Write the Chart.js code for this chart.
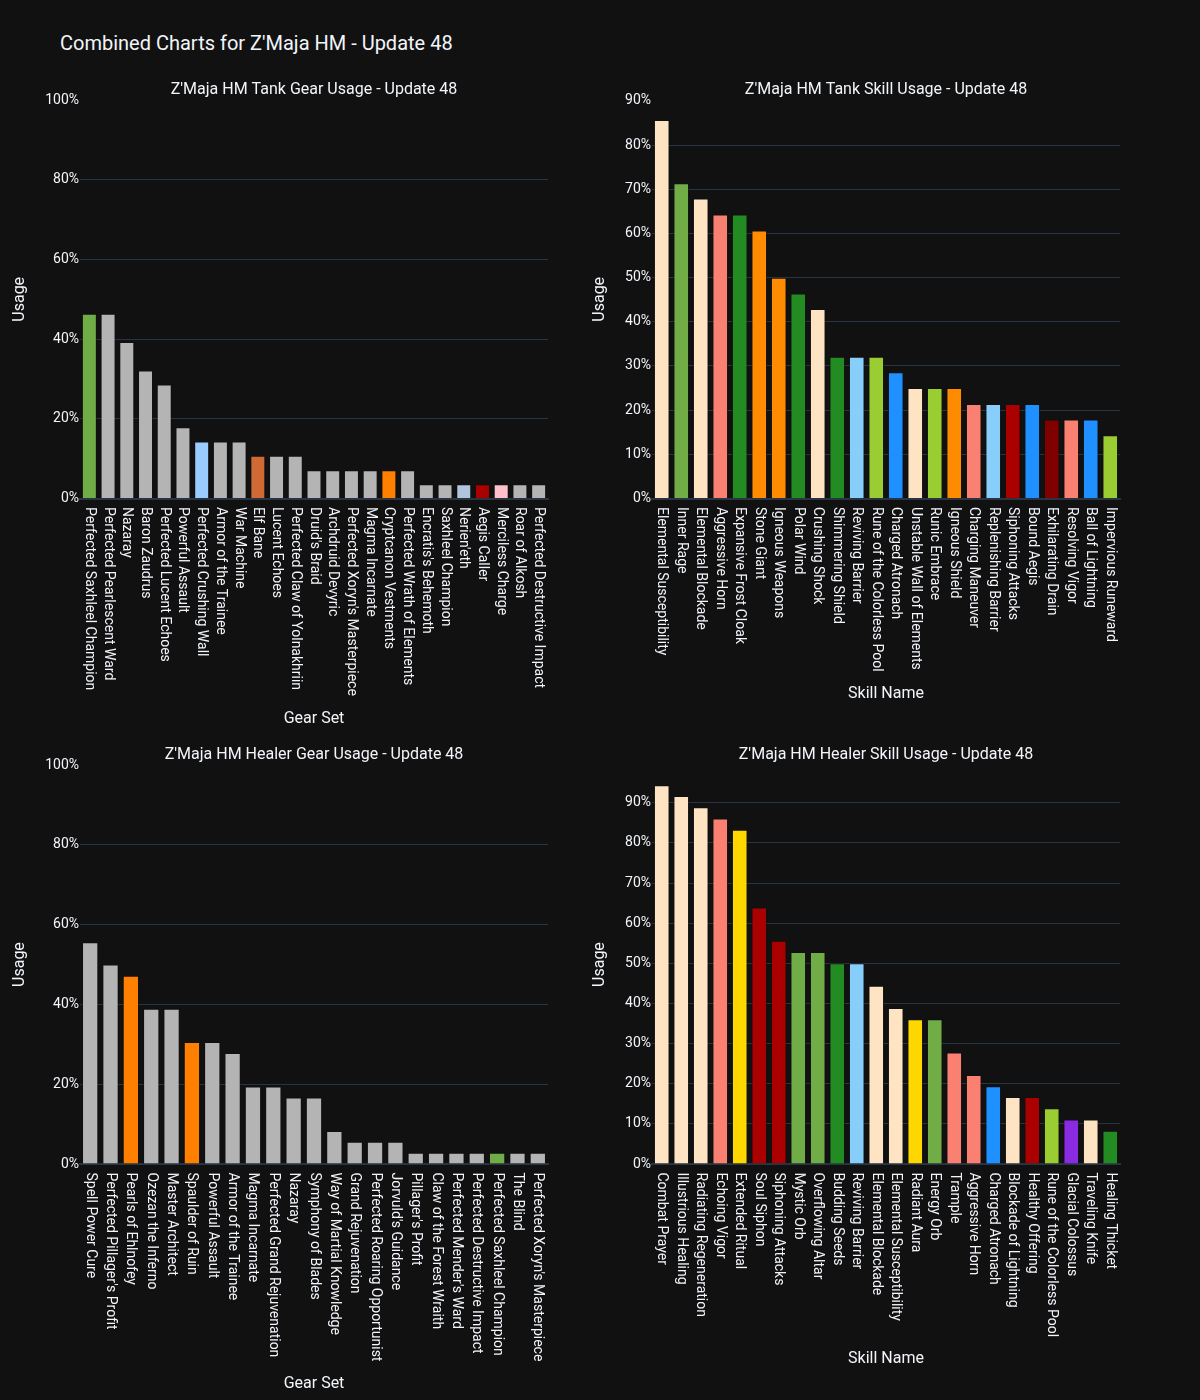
<!DOCTYPE html>
<html>
<head>
<meta charset="utf-8">
<title>Combined Charts for Z'Maja HM - Update 48</title>
<script src="https://cdn.jsdelivr.net/npm/chart.js@4.4.1/dist/chart.umd.min.js"></script>
<style>
  body { margin: 0; background: #111111; }
  #page { position: relative; width: 1200px; height: 1400px; background: #111111; font-family: Roboto, sans-serif; }
  #mainTitle { position: absolute; left: 60px; top: 31px; font-size: 20px; line-height: 24px; color: #f2f5fa; }
  .box { position: absolute; }
</style>
</head>
<body>
<div id="page">
  <div id="mainTitle">Combined Charts for Z'Maja HM - Update 48</div>
  <div class="box" style="left:0px;top:70px;width:600px;height:665px"><canvas id="tankGear"></canvas></div>
  <div class="box" style="left:570px;top:70px;width:630px;height:665px"><canvas id="tankSkill"></canvas></div>
  <div class="box" style="left:0px;top:735px;width:600px;height:665px"><canvas id="healerGear"></canvas></div>
  <div class="box" style="left:570px;top:735px;width:630px;height:665px"><canvas id="healerSkill"></canvas></div>
</div>
<script>
// data (usage in %)
var tankGearLabels = ['Perfected Saxhleel Champion', 'Perfected Pearlescent Ward', 'Nazaray', 'Baron Zaudrus',
    'Perfected Lucent Echoes', 'Powerful Assault', 'Perfected Crushing Wall', 'Armor of the Trainee', 'War Machine',
    'Elf Bane', 'Lucent Echoes', 'Perfected Claw of Yolnakhriin', "Druid's Braid", 'Archdruid Devyric',
    "Perfected Xoryn's Masterpiece", 'Magma Incarnate', 'Cryptcanon Vestments', 'Perfected Wrath of Elements',
    "Encratis's Behemoth", 'Saxhleel Champion', "Nerien'eth", 'Aegis Caller', 'Merciless Charge', 'Roar of Alkosh',
    'Perfected Destructive Impact'];
var tankGearValues = [46.4, 46.4, 39.3, 32.1, 28.6, 17.9, 14.3, 14.3, 14.3, 10.7, 10.7, 10.7, 7.1, 7.1, 7.1, 7.1,
    7.1, 7.1, 3.6, 3.6, 3.6, 3.6, 3.6, 3.6, 3.6];

var tankSkillLabels = ['Elemental Susceptibility', 'Inner Rage', 'Elemental Blockade', 'Aggressive Horn',
    'Expansive Frost Cloak', 'Stone Giant', 'Igneous Weapons', 'Polar Wind', 'Crushing Shock', 'Shimmering Shield',
    'Reviving Barrier', 'Rune of the Colorless Pool', 'Charged Atronach', 'Unstable Wall of Elements', 'Runic Embrace',
    'Igneous Shield', 'Charging Maneuver', 'Replenishing Barrier', 'Siphoning Attacks', 'Bound Aegis',
    'Exhilarating Drain', 'Resolving Vigor', 'Ball of Lightning', 'Impervious Runeward'];
var tankSkillValues = [85.7, 71.4, 67.9, 64.3, 64.3, 60.7, 50.0, 46.4, 42.9, 32.1, 32.1, 32.1, 28.6, 25.0, 25.0,
    25.0, 21.4, 21.4, 21.4, 21.4, 17.9, 17.9, 17.9, 14.3];

var healerGearLabels = ['Spell Power Cure', "Perfected Pillager's Profit", 'Pearls of Ehlnofey', 'Ozezan the Inferno',
    'Master Architect', 'Spaulder of Ruin', 'Powerful Assault', 'Armor of the Trainee', 'Magma Incarnate',
    'Perfected Grand Rejuvenation', 'Nazaray', 'Symphony of Blades', 'Way of Martial Knowledge', 'Grand Rejuvenation',
    'Perfected Roaring Opportunist', "Jorvuld's Guidance", "Pillager's Profit", 'Claw of the Forest Wraith',
    "Perfected Mender's Ward", 'Perfected Destructive Impact', 'Perfected Saxhleel Champion', 'The Blind',
    "Perfected Xoryn's Masterpiece"];
var healerGearValues = [55.6, 50.0, 47.2, 38.9, 38.9, 30.6, 30.6, 27.8, 19.4, 19.4, 16.7, 16.7, 8.3, 5.6, 5.6, 5.6,
    2.8, 2.8, 2.8, 2.8, 2.8, 2.8, 2.8];

var healerSkillLabels = ['Combat Prayer', 'Illustrious Healing', 'Radiating Regeneration', 'Echoing Vigor',
    'Extended Ritual', 'Soul Siphon', 'Siphoning Attacks', 'Mystic Orb', 'Overflowing Altar', 'Budding Seeds',
    'Reviving Barrier', 'Elemental Blockade', 'Elemental Susceptibility', 'Radiant Aura', 'Energy Orb', 'Trample',
    'Aggressive Horn', 'Charged Atronach', 'Blockade of Lightning', 'Healthy Offering', 'Rune of the Colorless Pool',
    'Glacial Colossus', 'Traveling Knife', 'Healing Thicket'];
var healerSkillValues = [94.4, 91.7, 88.9, 86.1, 83.3, 63.9, 55.6, 52.8, 52.8, 50.0, 50.0, 44.4, 38.9, 36.1, 36.1,
    27.8, 22.2, 19.4, 16.7, 16.7, 13.9, 11.1, 11.1, 8.3];

// bar colours
var GRAY = '#b4b4b4', GREEN = '#70ad47', BISQUE = '#ffe4c4', SALMON = '#fa8072', FOREST = '#228b22',
    ORANGE = '#ff8c00', SKY = '#87cefa', YGREEN = '#9acd32', DODGER = '#1e90ff', RED = '#aa0000',
    MAROON = '#800000', GOLD = '#ffd700', VIOLET = '#8a2be2';

var tankGearColors = [GREEN, GRAY, GRAY, GRAY, GRAY, GRAY, '#99ccff', GRAY, GRAY, '#cf6a35', GRAY, GRAY, GRAY, GRAY,
    GRAY, GRAY, '#ff8000', GRAY, GRAY, GRAY, '#b0c4de', RED, '#ffc0cb', GRAY, GRAY];
var tankSkillColors = [BISQUE, GREEN, BISQUE, SALMON, FOREST, ORANGE, ORANGE, FOREST, BISQUE, FOREST, SKY, YGREEN,
    DODGER, BISQUE, YGREEN, ORANGE, SALMON, SKY, RED, DODGER, MAROON, SALMON, DODGER, YGREEN];
var healerGearColors = [GRAY, GRAY, '#ff8000', GRAY, GRAY, '#ff8000', GRAY, GRAY, GRAY, GRAY, GRAY, GRAY, GRAY, GRAY,
    GRAY, GRAY, GRAY, GRAY, GRAY, GRAY, GREEN, GRAY, GRAY];
var healerSkillColors = [BISQUE, BISQUE, BISQUE, SALMON, GOLD, RED, RED, GREEN, GREEN, FOREST, SKY, BISQUE, BISQUE,
    GOLD, GREEN, SALMON, SALMON, DODGER, BISQUE, RED, YGREEN, VIOLET, BISQUE, FOREST];

var TEXT = '#f2f5fa';
var GRID = '#283442';

Chart.defaults.font.family = 'Roboto';
Chart.defaults.color = TEXT;

// plotly-like labels: rotated +90deg, reading downward from the axis
var downLabels = {
    id: 'downLabels',
    afterDraw: function (chart) {
        var xs = chart.scales.x;
        var ctx = chart.ctx;
        ctx.save();
        ctx.fillStyle = TEXT;
        ctx.font = '14px Roboto';
        ctx.textAlign = 'left';
        ctx.textBaseline = 'middle';
        chart.data.labels.forEach(function (lab, i) {
            ctx.save();
            ctx.translate(xs.getPixelForTick(i), xs.top + 8.5);
            ctx.rotate(Math.PI / 2);
            ctx.fillText(lab, 0, 0);
            ctx.restore();
        });
        ctx.restore();
    }
};

function makeChart(id, title, xTitle, labels, values, colors, yMax, step, box) {
    var ctx = document.getElementById(id).getContext('2d');
    return new Chart(ctx, {
        type: 'bar',
        data: {
            labels: labels,
            datasets: [{
                label: 'Usage',
                data: values,
                backgroundColor: colors,
                borderColor: 'rgba(17,17,17,0.55)',
                borderWidth: 1,
                categoryPercentage: 1.0,
                barPercentage: 0.8
            }]
        },
        options: {
            responsive: true,
            maintainAspectRatio: false,
            animation: false,
            layout: { padding: { top: 8.4, left: box.padLeft, right: box.padRight, bottom: box.padBottom } },
            plugins: {
                legend: { display: false },
                tooltip: { enabled: false },
                title: {
                    display: true,
                    text: title,
                    fullSize: false,
                    color: TEXT,
                    font: { size: 16, weight: 'normal' },
                    padding: { top: 2, bottom: 0.5 }
                }
            },
            scales: {
                x: {
                    grid: { display: false },
                    border: { display: true, color: GRID, width: 2 },
                    ticks: { display: false },
                    title: { display: true, text: xTitle, color: TEXT, font: { size: 16 } },
                    afterFit: function (s) { s.height = box.xHeight; }
                },
                y: {
                    min: 0,
                    max: yMax,
                    border: { display: false },
                    grid: {
                        drawTicks: false,
                        color: function (c) { return c.tick && c.tick.value >= yMax - 0.5 ? 'rgba(0,0,0,0)' : GRID; }
                    },
                    ticks: {
                        stepSize: step,
                        includeBounds: false,
                        padding: 1,
                        color: TEXT,
                        font: { size: 14 },
                        callback: function (v) { return v + '%'; }
                    },
                    title: { display: true, text: 'Usage', color: TEXT, font: { size: 16 } },
                    afterFit: function (s) { s.width = box.yWidth; }
                }
            }
        },
        plugins: [downLabels]
    });
}

document.addEventListener('DOMContentLoaded', function () {
    var leftTop = { padLeft: 6.4, padRight: 52, padBottom: 2.4, yWidth: 73.6, xHeight: 234.1 };
    var rightTop = { padLeft: 16.4, padRight: 80, padBottom: 27.4, yWidth: 65.6, xHeight: 209.1 };
    var leftBottom = { padLeft: 6.4, padRight: 52, padBottom: 2.4, yWidth: 73.6, xHeight: 233.6 };
    var rightBottom = { padLeft: 16.4, padRight: 80, padBottom: 27.4, yWidth: 65.6, xHeight: 208.6 };

    makeChart('tankGear', "Z'Maja HM Tank Gear Usage - Update 48", 'Gear Set',
        tankGearLabels, tankGearValues, tankGearColors, 100, 20, leftTop);
    makeChart('tankSkill', "Z'Maja HM Tank Skill Usage - Update 48", 'Skill Name',
        tankSkillLabels, tankSkillValues, tankSkillColors, 90.2, 10, rightTop);
    makeChart('healerGear', "Z'Maja HM Healer Gear Usage - Update 48", 'Gear Set',
        healerGearLabels, healerGearValues, healerGearColors, 100, 20, leftBottom);
    makeChart('healerSkill', "Z'Maja HM Healer Skill Usage - Update 48", 'Skill Name',
        healerSkillLabels, healerSkillValues, healerSkillColors, 99.4, 10, rightBottom);
});
</script>
</body>
</html>
